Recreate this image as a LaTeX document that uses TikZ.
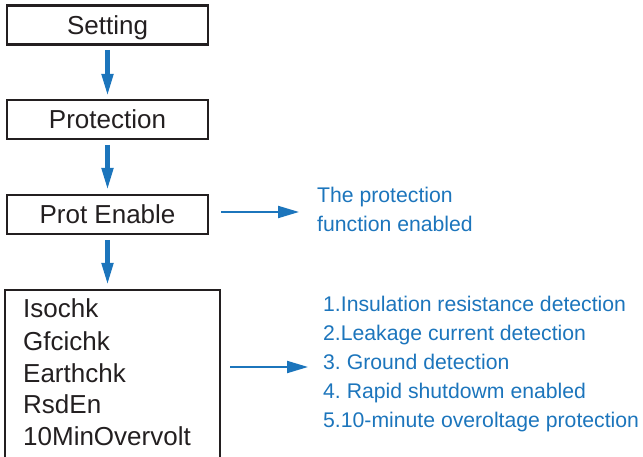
\documentclass[tikz,border=0pt]{standalone}
\usepackage{fontspec}
\setmainfont{Liberation Sans}
\usepackage{xcolor}
\definecolor{stepBlue}{RGB}{28,117,188}
\definecolor{boxLine}{RGB}{35,31,32}
\usepackage{tikz}
\usetikzlibrary{arrows.meta,positioning,calc}
\frenchspacing
\tikzstyle{menubox}=[draw=boxLine, line width=2.5pt, minimum width=201pt, minimum height=39pt, inner sep=0pt, outer sep=0pt, text height=18.6pt, text depth=0pt, text=boxLine, font=\fontsize{26}{30}\selectfont]
\tikzstyle{chkitem}=[anchor=base west, inner sep=0pt, text=boxLine, font=\fontsize{26}{30}\selectfont]
\tikzstyle{noteline}=[anchor=base west, inner sep=0pt, text=stepBlue, font=\fontsize{21.2}{25}\selectfont]
\tikzstyle{downarrow}=[draw=stepBlue, line width=4.5pt, -{Triangle[length=22pt,width=11pt]}]
\tikzstyle{sidearrow}=[draw=stepBlue, line width=2pt, -{Triangle[length=21pt,width=12pt]}]

\begin{document}
\begin{tikzpicture}[x=1pt,y=-1pt]
        \useasboundingbox (0,0) rectangle (643,457);
        \clip (0,0) rectangle (643,457);
        % menu path
        \node[menubox] (set) at (107.5,25) {Setting};
        \node[menubox] (prot) at (107.5,119.5) {Protection};
        \node[menubox] (pe) at (107.5,214.5) {Prot Enable};
        \node[menubox, minimum width=215pt, minimum height=200pt, anchor=north]
          (chk) at (112.5,290) {};
        \node[chkitem] (iso) at (23,318) {Isochk};
        \node[chkitem] (gfci) at (23,350) {Gfcichk};
        \node[chkitem] (earth) at (23,382) {Earthchk};
        \node[chkitem] (rsd) at (23,413) {RsdEn};
        \node[chkitem] (ovv) at (23,445) {10MinOvervolt};
        % notes
        \node[noteline] (fn1) at (317,203) {The protection};
        \node[noteline] (fn2) at (317,232) {function enabled};
        \node[noteline] (lst1) at (323,312) {1.Insulation resistance detection};
        \node[noteline] (lst2) at (323,340) {2.Leakage current detection};
        \node[noteline] (lst3) at (323,369) {3. Ground detection};
        \node[noteline] (lst4) at (323,398) {4. Rapid shutdowm enabled};
        \node[noteline] (lst5) at (323,427) {5.10-minute overoltage protection};
        % arrows
        \draw[downarrow, shorten <=5.5pt, shorten >=4pt] (set) -- (prot);
        \draw[downarrow, shorten <=6pt, shorten >=5pt] (prot) -- (pe);
        \draw[downarrow, shorten <=6pt, shorten >=5pt] (pe) -- (pe.south |- chk.north);
        \draw[sidearrow] ([xshift=13pt,yshift=2.5pt]pe.east)
          -- ($(pe.east -| fn1.west)+(-18,-2.5)$);
        \coordinate (chkout) at ($(chk.north east)+(10,77)$);
        \draw[sidearrow] (chkout) -- ($(chkout -| lst3.west)+(-15,0)$);
      \end{tikzpicture}
\end{document}
